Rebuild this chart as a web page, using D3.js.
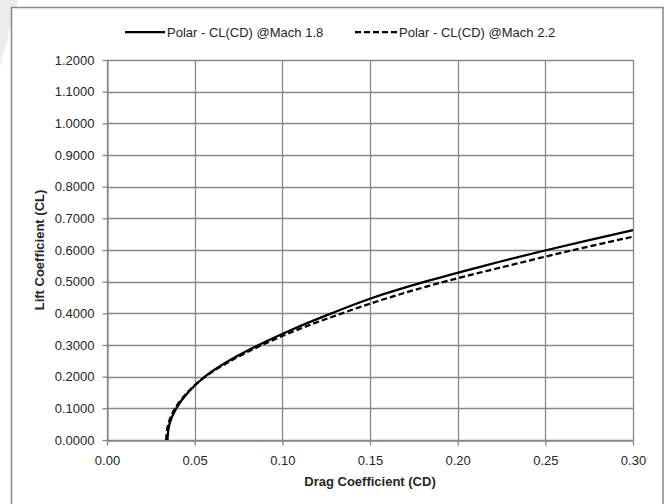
<!DOCTYPE html>
<html>
<head lang="en">
  <title>Polar CL(CD)</title>
  <script src="https://d3js.org/d3.v7.min.js" charset="utf-8"></script>
  <style>
    body { margin: 0; background: #fff; }
    text { font-family: "Liberation Sans", Arial, sans-serif; fill: #262626; }
  </style>
</head>
<body>
  <script>
    // values
    var xTicks = [0.00, 0.05, 0.10, 0.15, 0.20, 0.25, 0.30];
    var yTicks = [0.0, 0.1, 0.2, 0.3, 0.4, 0.5, 0.6, 0.7, 0.8, 0.9, 1.0, 1.1, 1.2];
    var seriesNames = ["Polar - CL(CD) @Mach 1.8", "Polar - CL(CD) @Mach 2.2"];

    // Mach 1.8
    var cl18 = [0.00, 0.05, 0.10, 0.15, 0.20, 0.25, 0.30, 0.35, 0.40, 0.45, 0.50, 0.55, 0.60, 0.663];
    var cd18 = [0.0345, 0.0356, 0.0395, 0.0462, 0.0558, 0.0695, 0.0865, 0.1060, 0.1280, 0.1520, 0.1815, 0.2150, 0.2510, 0.3000];
    // Mach 2.2
    var cl22 = [0.00, 0.05, 0.10, 0.15, 0.20, 0.25, 0.30, 0.35, 0.40, 0.45, 0.50, 0.55, 0.60, 0.642];
    var cd22 = [0.0337, 0.0349, 0.0388, 0.0458, 0.0560, 0.0705, 0.0884, 0.1095, 0.1340, 0.1610, 0.1925, 0.2285, 0.2660, 0.3000];

    var width = 669;
    var height = 504;
    var gridColor = "#878787";

    var svg = d3.select("body")
      .append("svg")
      .attr("width", width)
      .attr("height", height);

    // faint shape left of the chart frame
    svg.append("path")
      .attr("d", "M0,0 L18,0 L0,66 Z")
      .style("fill", "#ececec");

    // chart frame
    svg.append("rect")
      .attr("x", 11.5)
      .attr("y", 7.5)
      .attr("width", 651.5)
      .attr("height", 520)
      .style("fill", "#fff")
      .style("stroke", gridColor)
      .style("stroke-width", 1.5);

    var x = d3.scaleLinear().domain([0, 0.3]).range([107, 633]);
    var y = d3.scaleLinear().domain([0, 1.2]).range([440, 60]);

    // gridlines
    svg.append("g").selectAll("line")
        .data(yTicks)
      .enter().append("line")
        .attr("x1", x(0)).attr("x2", x(0.3))
        .attr("y1", function(d) { return Math.round(y(d)) + 0.5; })
        .attr("y2", function(d) { return Math.round(y(d)) + 0.5; })
        .style("stroke", gridColor)
        .style("stroke-width", 1.3);

    svg.append("g").selectAll("line")
        .data(xTicks)
      .enter().append("line")
        .attr("y1", y(0)).attr("y2", y(1.2))
        .attr("x1", function(d) { return Math.round(x(d)) + 0.5; })
        .attr("x2", function(d) { return Math.round(x(d)) + 0.5; })
        .style("stroke", gridColor)
        .style("stroke-width", 1.3);

    // axes
    var yAxis = svg.append("g")
      .attr("transform", "translate(" + (x(0) + 0.5) + ",0)")
      .call(d3.axisLeft(y).tickValues(yTicks).tickFormat(d3.format(".4f"))
        .tickSize(5).tickPadding(8).tickSizeOuter(0));

    var xAxis = svg.append("g")
      .attr("transform", "translate(0," + (y(0) + 0.5) + ")")
      .call(d3.axisBottom(x).tickValues(xTicks).tickFormat(d3.format(".2f"))
        .tickSize(5).tickPadding(10).tickSizeOuter(0));

    [yAxis, xAxis].forEach(function(a) {
      a.select(".domain").style("stroke", gridColor).style("stroke-width", 1.3);
      a.selectAll(".tick line").style("stroke", gridColor).style("stroke-width", 1.3);
      a.selectAll(".tick text")
        .style("font-family", "'Liberation Sans', Arial, sans-serif")
        .style("font-size", "13px")
        .style("fill", "#262626");
    });

    // curves
    var line = d3.line()
      .x(function(d) { return x(d[0]); })
      .y(function(d) { return y(d[1]); })
      .curve(d3.curveCatmullRom);

    var pts18 = cd18.map(function(d, i) { return [d, cl18[i]]; });
    var pts22 = cd22.map(function(d, i) { return [d, cl22[i]]; });

    svg.append("path")
      .datum(pts22)
      .attr("d", line)
      .style("fill", "none")
      .style("stroke", "#000")
      .style("stroke-width", 2.25)
      .style("stroke-dasharray", "6,3");

    svg.append("path")
      .datum(pts18)
      .attr("d", line)
      .style("fill", "none")
      .style("stroke", "#000")
      .style("stroke-width", 2.25);

    // axis titles
    svg.append("text")
      .attr("x", (x(0) + x(0.3)) / 2)
      .attr("y", 486)
      .attr("text-anchor", "middle")
      .style("font-size", "13px")
      .style("font-weight", "bold")
      .text("Drag Coefficient (CD)");

    svg.append("text")
      .attr("transform", "translate(44," + (y(0) + y(1.2)) / 2 + ") rotate(-90)")
      .attr("text-anchor", "middle")
      .style("font-size", "13px")
      .style("font-weight", "bold")
      .text("Lift Coefficient (CL)");

    // legend
    var legend = [
      { name: seriesNames[0], x1: 125, x2: 165, dash: null },
      { name: seriesNames[1], x1: 355, x2: 397, dash: "6,3" }
    ];
    var lg = svg.append("g").selectAll("g")
        .data(legend)
      .enter().append("g");
    lg.append("line")
      .attr("x1", function(d) { return d.x1; })
      .attr("x2", function(d) { return d.x2; })
      .attr("y1", 32).attr("y2", 32)
      .style("stroke", "#000")
      .style("stroke-width", 2.25)
      .style("stroke-dasharray", function(d) { return d.dash; });
    lg.append("text")
      .attr("x", function(d) { return d.x2 + 2; })
      .attr("y", 36.5)
      .style("font-size", "13px")
      .text(function(d) { return d.name; });
  </script>
</body>
</html>
